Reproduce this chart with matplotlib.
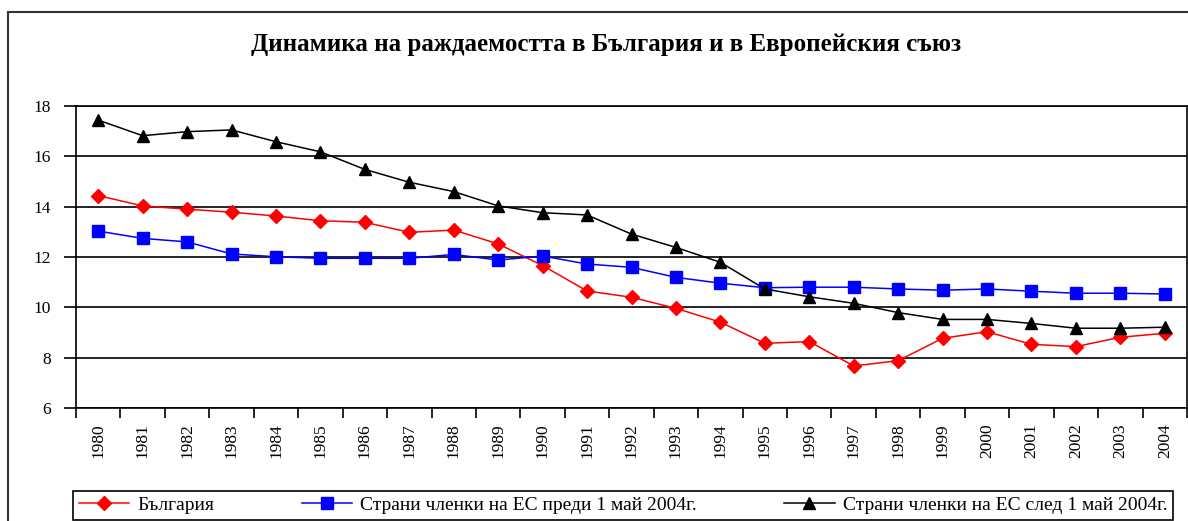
import matplotlib
matplotlib.use("Agg")
import matplotlib.pyplot as plt
from matplotlib.lines import Line2D

years = [str(y) for y in range(1980, 2005)]
bulgaria = [14.44, 14.03, 13.90, 13.78, 13.63, 13.44, 13.38, 12.98, 13.07, 12.52,
            11.66, 10.65, 10.40, 9.96, 9.41, 8.57, 8.64, 7.67, 7.88, 8.77,
            9.03, 8.53, 8.44, 8.81, 8.97]
eu_before = [13.03, 12.74, 12.60, 12.12, 12.01, 11.95, 11.95, 11.95, 12.10, 11.88,
             12.04, 11.72, 11.59, 11.19, 10.96, 10.78, 10.80, 10.80, 10.73, 10.68,
             10.73, 10.64, 10.56, 10.56, 10.53]
eu_after = [17.44, 16.82, 16.98, 17.05, 16.58, 16.18, 15.48, 14.97, 14.60, 14.03,
            13.76, 13.67, 12.91, 12.38, 11.79, 10.73, 10.42, 10.16, 9.79, 9.52,
            9.52, 9.36, 9.17, 9.17, 9.21]
series_labels = ["България",
                 "Страни членки на ЕС преди 1 май 2004г.",
                 "Страни членки на ЕС след 1 май 2004г."]
title = "Динамика на раждаемостта в България и в Европейския съюз"
yticks = [6, 8, 10, 12, 14, 16, 18]

W, H = 1188, 521
fig = plt.figure(figsize=(W / 100, H / 100), dpi=100)
serif = ["Liberation Serif", "DejaVu Serif"]

ax = fig.add_axes([76 / W, 1 - 408 / H, (1187 - 76) / W, (408 - 106) / H])
x = list(range(len(years)))
ax.plot(x, bulgaria, color="#ff0000", lw=1.1, marker="D", ms=7, label=series_labels[0])
ax.plot(x, eu_before, color="#0000ff", lw=1.1, marker="s", ms=8, label=series_labels[1])
ax.plot(x, eu_after, color="#000000", lw=1.1, marker="^", ms=9, label=series_labels[2])

ax.set_xlim(-0.5, len(years) - 0.5)
ax.set_ylim(6, 18)
ax.set_yticks(yticks)
ax.set_yticklabels([str(v) for v in yticks], fontfamily=serif, fontsize=12.5)
ax.yaxis.grid(True, color="black", lw=1.2)
ax.set_axisbelow(True)
ax.tick_params(axis="y", length=9, width=1.2, direction="out", pad=9)

ax.set_xticks([i - 0.5 for i in range(len(years) + 1)])
ax.set_xticklabels([])
ax.tick_params(axis="x", which="major", length=7, width=1.2, direction="out")
ax.set_xticks(x, minor=True)
ax.set_xticklabels(years, minor=True, rotation=90, fontfamily=serif, fontsize=12.5)
ax.tick_params(axis="x", which="minor", length=0, pad=11)

for s in ax.spines.values():
    s.set_linewidth(1.2)
    s.set_color("black")

fig.text(606 / W, 1 - 45 / H, title, ha="center", va="center",
         fontfamily=serif, fontweight="bold", fontsize=18)

leg = fig.legend(loc="lower left", bbox_to_anchor=(73 / W, 1 / H, 1100 / W, 38 / H),
                 mode="expand", ncol=3, frameon=True, fancybox=False,
                 edgecolor="black", framealpha=1, borderaxespad=0,
                 prop={"family": serif, "size": 14}, handlelength=2.6,
                 handletextpad=0.4, borderpad=0.3, columnspacing=1.0)
leg.get_frame().set_linewidth(1.2)

# outer chart border
fig.add_artist(Line2D([8 / W, 8 / W], [0, 1 - 12 / H], transform=fig.transFigure,
                      color="#333333", lw=1.5))
fig.add_artist(Line2D([8 / W, 1.0], [1 - 12 / H, 1 - 12 / H], transform=fig.transFigure,
                      color="#333333", lw=1.5))

fig.savefig("out.png", dpi=100)
